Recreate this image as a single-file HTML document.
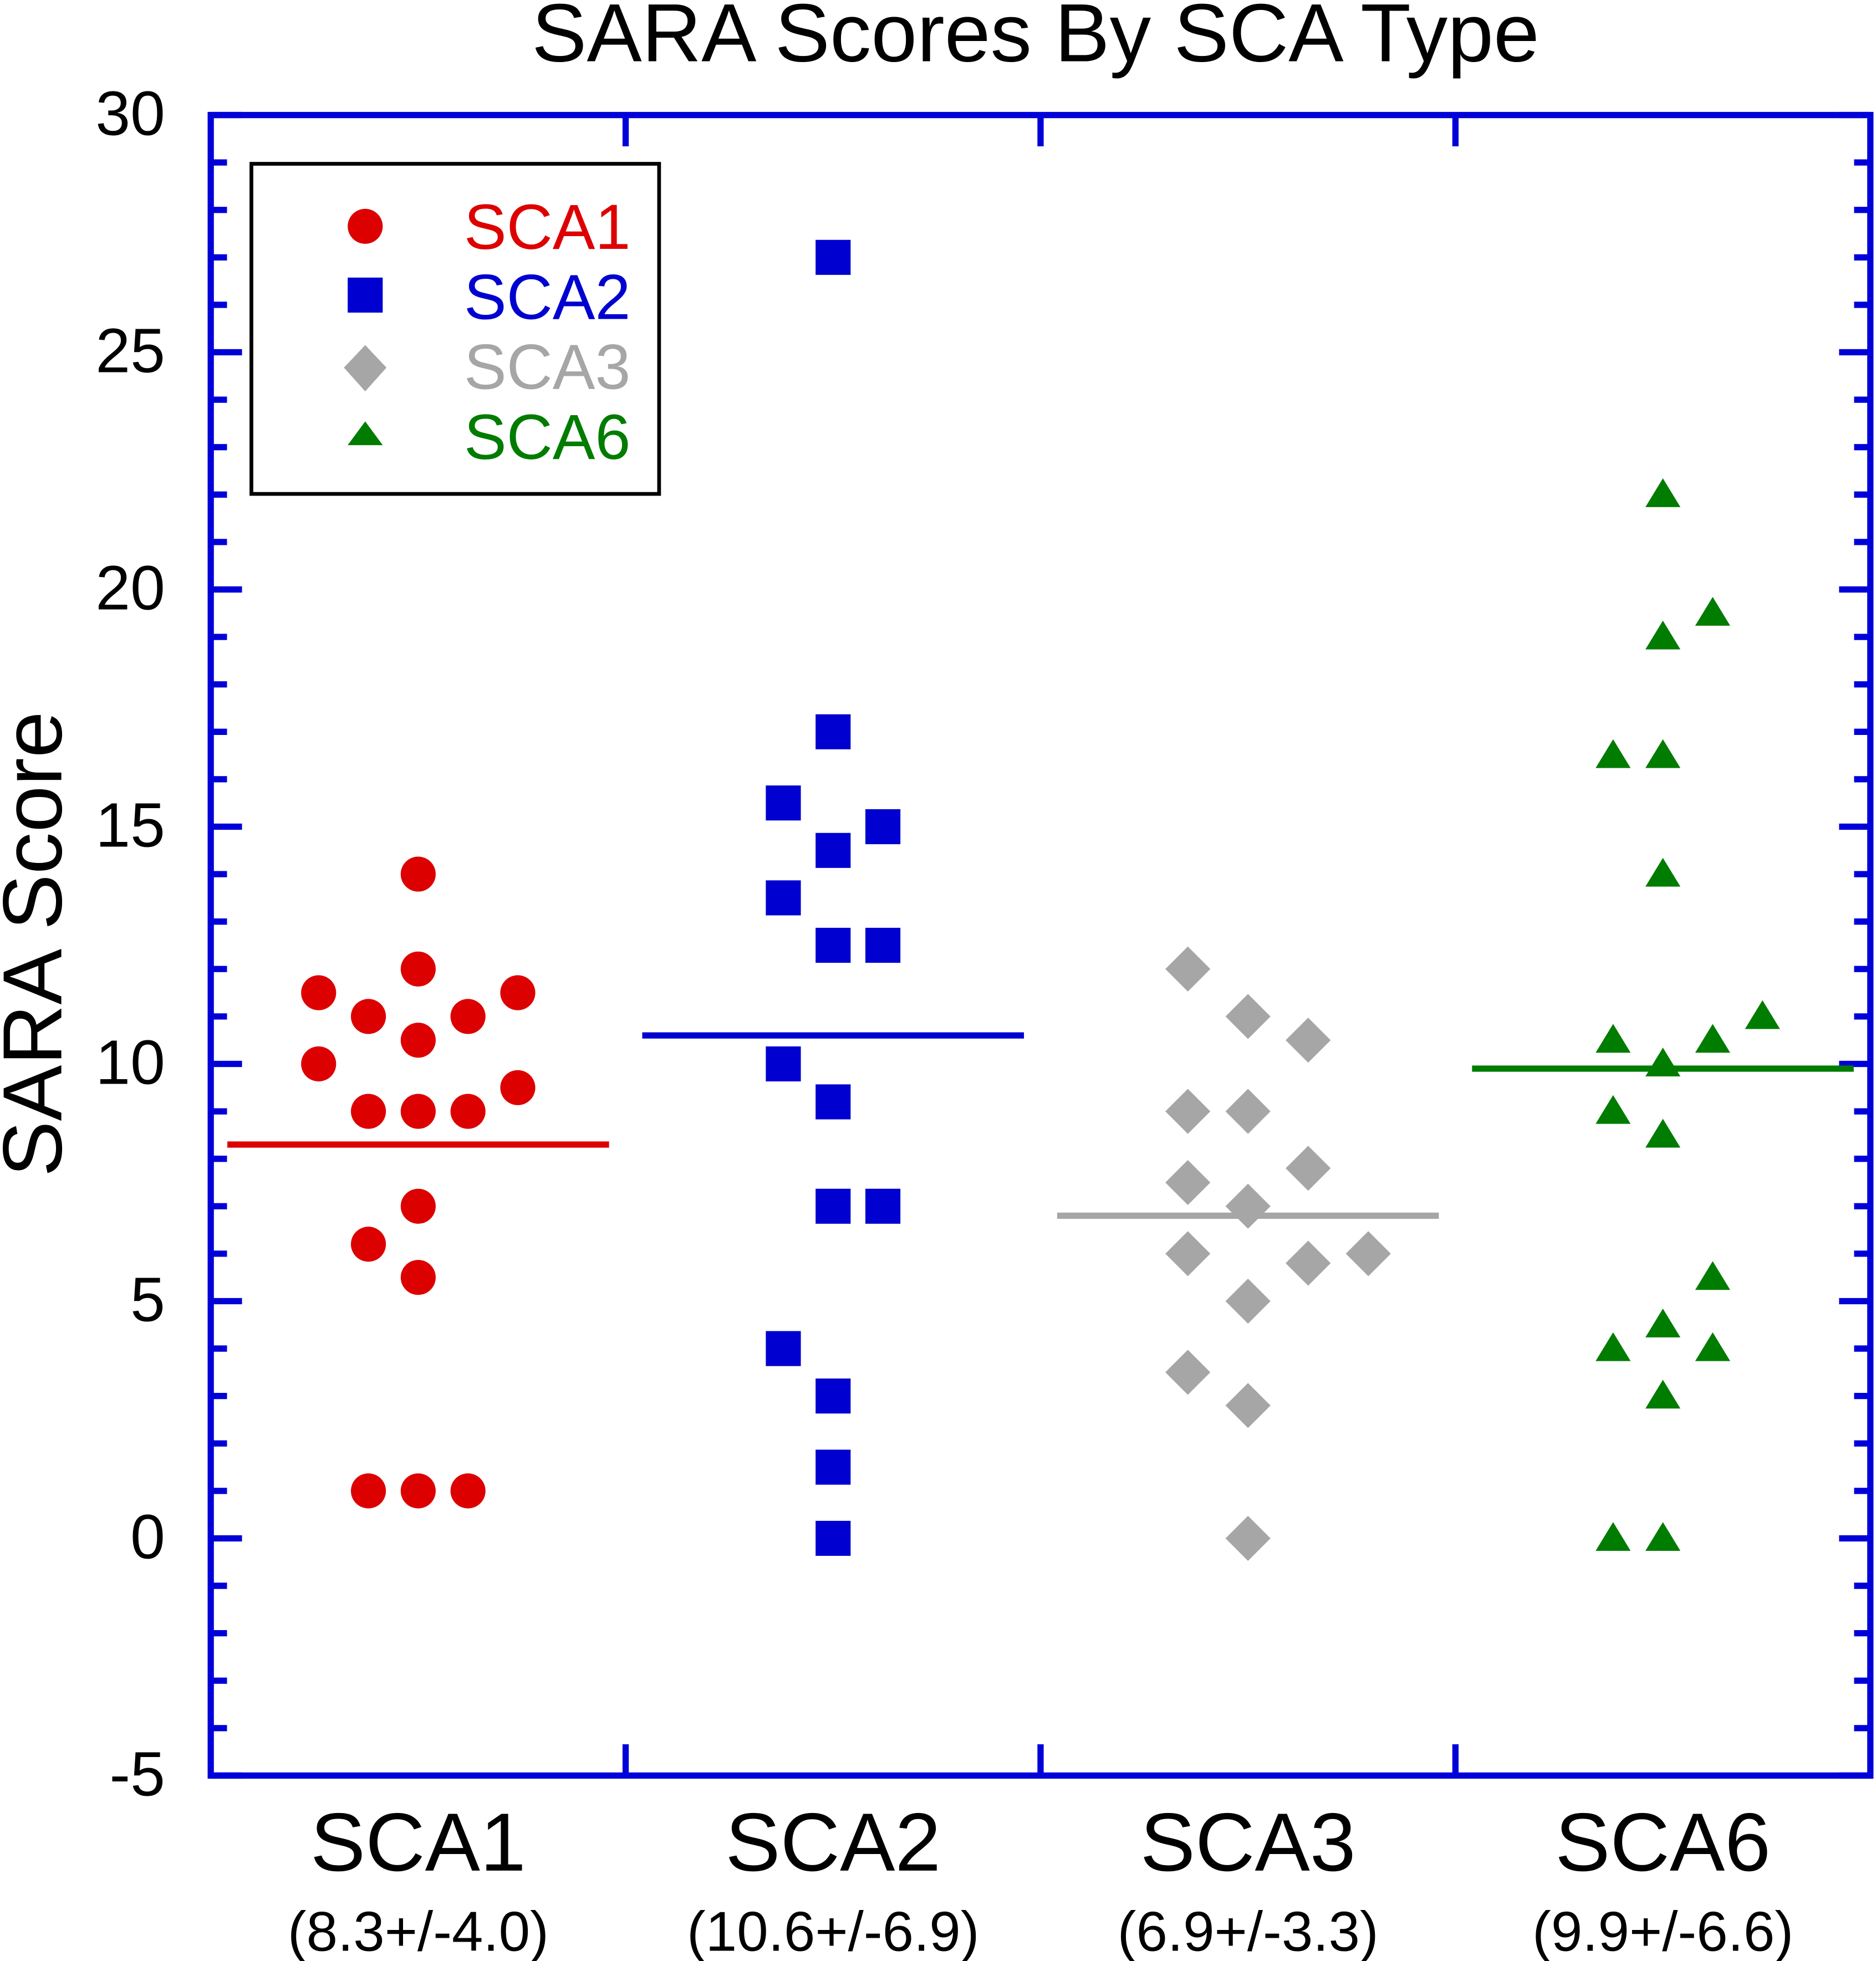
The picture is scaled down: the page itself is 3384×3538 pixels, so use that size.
<!DOCTYPE html>
<html><head><meta charset="utf-8"><style>
html,body{margin:0;padding:0;background:#fff;}
svg{display:block;font-family:"Liberation Sans",Arial,sans-serif;}
</style></head><body>
<svg id="chart" width="3384" height="3538" viewBox="0 0 1500 1568.3" xmlns="http://www.w3.org/2000/svg">
<text x="828" y="49" font-size="66" text-anchor="middle">SARA Scores By SCA Type</text>
<text transform="translate(49,755) rotate(-90)" font-size="67" text-anchor="middle">SARA Score</text>
<g id="ticks"></g>
<g id="marks"></g>
<rect x="168.5" y="92" width="1327" height="1328" fill="none" stroke="#0000d8" stroke-width="5"/>
<g>
<rect x="201" y="131" width="326" height="264" fill="#fff" stroke="#000" stroke-width="3"/>
<circle cx="292" cy="181" r="14" fill="#dd0000"/>
<text x="371" y="199" font-size="51" fill="#dd0000">SCA1</text>
<rect x="278" y="222" width="28" height="28" fill="#0000d0"/>
<text x="371" y="255" font-size="51" fill="#0000d0">SCA2</text>
<polygon points="292,276 309,294 292,313 275,294" fill="#a6a6a6"/>
<text x="371" y="311" font-size="51" fill="#a6a6a6">SCA3</text>
<polygon points="292,337 306,356 278,356" fill="#007c00"/>
<text x="371" y="367" font-size="51" fill="#007c00">SCA6</text>
</g>
</svg>
<script>
const categories=["SCA1","SCA2","SCA3","SCA6"];
const subLabels=["(8.3+/-4.0)","(10.6+/-6.9)","(6.9+/-3.3)","(9.9+/-6.6)"];
const means=[8.3,10.6,6.8,9.9];
const yTicks=[-5,0,5,10,15,20,25,30];
const sca1Y=[11.5,11,12,11,11.5,14,10,10.5,9,9,9,9.5,7,6.2,5.5,1,1,1];
const sca1Dx=[-0.24,-0.12,0,0.12,0.24,0,-0.24,0,-0.12,0,0.12,0.24,0,-0.12,0,-0.12,0,0.12];
const sca2Y=[27,17,15.5,15,14.5,13.5,12.5,12.5,10,9.2,7,7,4,3,1.5,0];
const sca2Dx=[0,0,-0.12,0.12,0,-0.12,0,0.12,-0.12,0,0,0.12,-0.12,0,0,0];
const sca3Y=[12,11,10.5,9,9,7.8,7.5,7,6,5.8,6,5,3.5,2.8,0];
const sca3Dx=[-0.145,0,0.145,-0.145,0,0.145,-0.145,0,-0.145,0.145,0.29,0,-0.145,0,0];
const sca6Y=[22,19.5,19,16.5,16.5,14,11,10.5,10.5,10,9,8.5,5.5,4.5,4,4,3,0,0];
const sca6Dx=[0,0.12,0,-0.12,0,0,0.24,-0.12,0.12,0,-0.12,0,0.12,0,-0.12,0.12,0,-0.12,0];

const NS="http://www.w3.org/2000/svg";
const L=168.5,R=1495.5,T=92,B=1420,YMIN=-5,YMAX=30;
const xC=v=>L+(v)*(R-L)/4;
const yS=v=>B-(v-YMIN)/(YMAX-YMIN)*(B-T);
const colors=["#dd0000","#0000d0","#a6a6a6","#007c00"];
function mk(tag,attrs,parent){const e=document.createElementNS(NS,tag);for(const k in attrs)e.setAttribute(k,attrs[k]);parent.appendChild(e);return e;}
const tg=document.getElementById('ticks'),mg=document.getElementById('marks');
for(let v=YMIN;v<=YMAX;v++){
  const major=(v%5===0);const len=major?25:13;const y=yS(v);
  let a=mk('line',{x1:L,x2:L+len,y1:y,y2:y,stroke:'#0000d8','stroke-width':5},tg);
  
  
  let b=mk('line',{x1:R,x2:R-len,y1:y,y2:y,stroke:'#0000d8','stroke-width':5},tg);
  
  
}
yTicks.forEach(v=>{
  const t=mk('text',{x:132,y:yS(v)+16,'font-size':50,'text-anchor':'end'},tg);
  t.textContent=v;
  
  
});
for(let i=1;i<4;i++){
  const x=xC(i);
  let a=mk('line',{x1:x,x2:x,y1:T,y2:T+25,stroke:'#0000d8','stroke-width':5},tg);
  
  
  let b=mk('line',{x1:x,x2:x,y1:B,y2:B-25,stroke:'#0000d8','stroke-width':5},tg);
  
  
}
categories.forEach((c,i)=>{
  const x=xC(i+0.5);
  const t=mk('text',{x:x,y:1496,'font-size':66,'text-anchor':'middle'},tg);t.textContent=c;
  
  
  const s=mk('text',{x:x,y:1560,'font-size':45,'text-anchor':'middle'},tg);s.textContent=subLabels[i];
  
  
  const m=mk('line',{x1:xC(i+0.04),x2:xC(i+0.96),y1:yS(means[i]),y2:yS(means[i]),stroke:colors[i],'stroke-width':5},mg);
  
  
});
const sets=[[sca1Y,sca1Dx],[sca2Y,sca2Dx],[sca3Y,sca3Dx],[sca6Y,sca6Dx]];
sets.forEach(([ys,dxs],i)=>{
  ys.forEach((v,j)=>{
    const x=xC(i+0.5+dxs[j]),y=yS(v);let e;
    if(i===0)e=mk('circle',{cx:x,cy:y,r:14,fill:colors[0]},mg);
    else if(i===1)e=mk('rect',{x:x-14,y:y-14,width:28,height:28,fill:colors[1]},mg);
    else if(i===2)e=mk('polygon',{points:`${x},${y-18} ${x+18},${y} ${x},${y+18} ${x-18},${y}`,fill:colors[2]},mg);
    else e=mk('polygon',{points:`${x},${y-13} ${x+14},${y+10} ${x-14},${y+10}`,fill:colors[3]},mg);
    
    
  });
});
</script>
</body></html>
